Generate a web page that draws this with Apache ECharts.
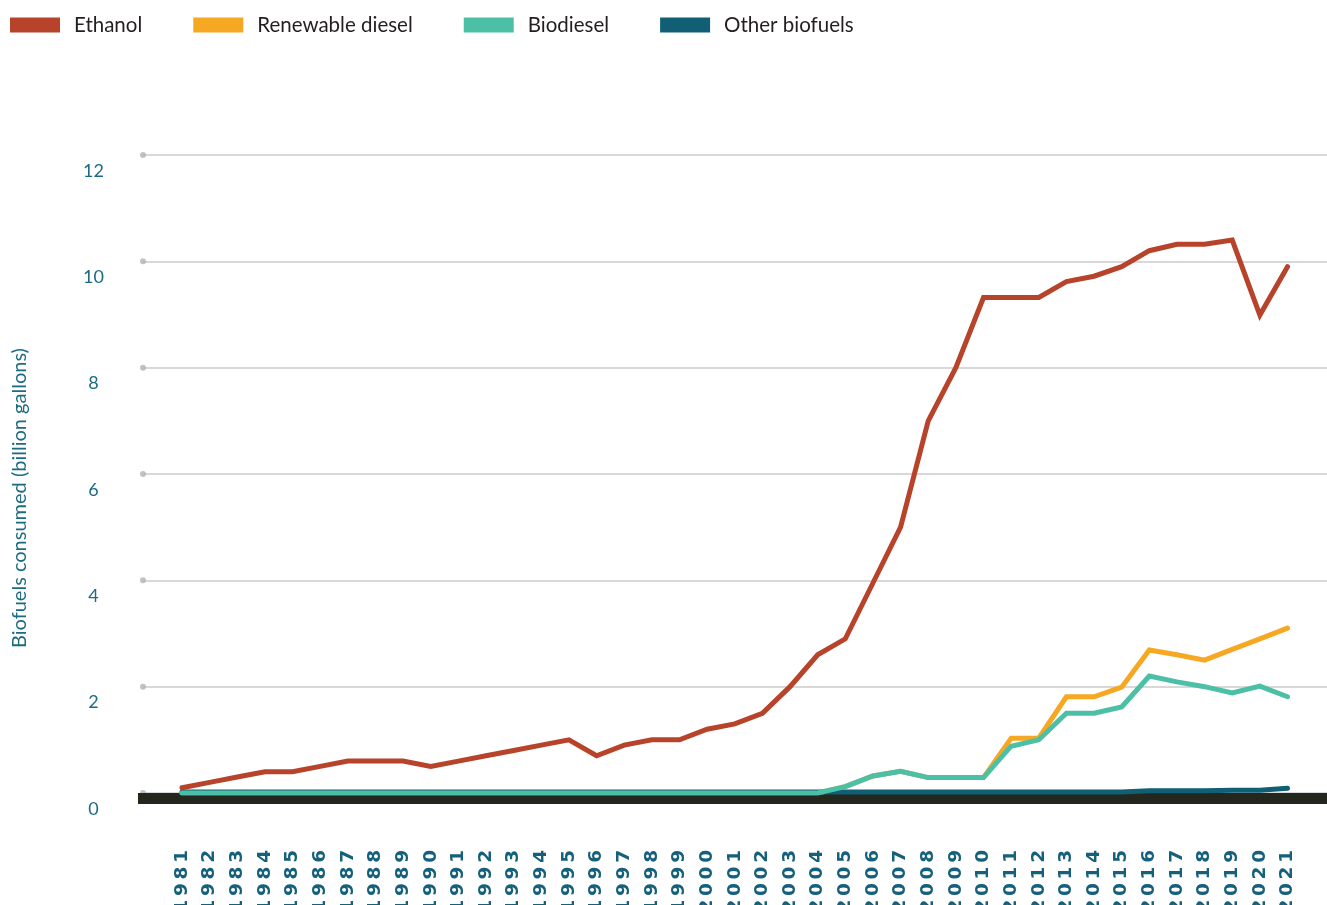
<!DOCTYPE html>
<html>
<head>
<meta charset="utf-8">
<title>Biofuels consumed</title>
<script src="https://cdn.jsdelivr.net/npm/echarts@6/dist/echarts.min.js"></script>
<style>
  html, body { margin: 0; padding: 0; background: #ffffff; }
  #chart { width: 1327px; height: 905px; }
</style>
</head>
<body>
<div id="chart"></div>
<script>
// Years on the horizontal axis
const years = [
  '1981','1982','1983','1984','1985','1986','1987','1988','1989','1990',
  '1991','1992','1993','1994','1995','1996','1997','1998','1999','2000',
  '2001','2002','2003','2004','2005','2006','2007','2008','2009','2010',
  '2011','2012','2013','2014','2015','2016','2017','2018','2019','2020','2021'
];

// Consumption, billion gallons
const ethanol = [
  0.1, 0.2, 0.3, 0.4, 0.4, 0.5, 0.6, 0.6, 0.6, 0.5,
  0.6, 0.7, 0.8, 0.9, 1.0, 0.7, 0.9, 1.0, 1.0, 1.2,
  1.3, 1.5, 2.0, 2.6, 2.9, 3.95, 5.0, 7.0, 8.0, 9.32,
  9.32, 9.32, 9.62, 9.72, 9.9, 10.2, 10.32, 10.32, 10.4, 8.99, 9.9
];
const renewableDiesel = [
  0, 0, 0, 0, 0, 0, 0, 0, 0, 0,
  0, 0, 0, 0, 0, 0, 0, 0, 0, 0,
  0, 0, 0, 0, 0.12, 0.32, 0.41, 0.29, 0.29, 0.29,
  1.03, 1.03, 1.81, 1.81, 1.99, 2.69, 2.6, 2.5, 2.7, 2.9, 3.1
];
const biodiesel = [
  0, 0, 0, 0, 0, 0, 0, 0, 0, 0,
  0, 0, 0, 0, 0, 0, 0, 0, 0, 0,
  0, 0, 0, 0, 0.12, 0.32, 0.41, 0.29, 0.29, 0.29,
  0.88, 1.0, 1.5, 1.5, 1.62, 2.2, 2.09, 2.0, 1.88, 2.01, 1.81
];
const otherBiofuels = [
  0.02, 0.02, 0.02, 0.02, 0.02, 0.02, 0.02, 0.02, 0.02, 0.02,
  0.02, 0.02, 0.02, 0.02, 0.02, 0.02, 0.02, 0.02, 0.02, 0.02,
  0.02, 0.02, 0.02, 0.02, 0.02, 0.02, 0.02, 0.02, 0.02, 0.02,
  0.02, 0.02, 0.02, 0.02, 0.02, 0.04, 0.04, 0.04, 0.05, 0.05, 0.09
];

// Value axis ticks
const yTicks = [0, 2, 4, 6, 8, 10, 12];

const seriesNames = ['Ethanol', 'Renewable diesel', 'Biodiesel', 'Other biofuels'];
const colors = {
  'Ethanol': '#b7432a',
  'Renewable diesel': '#f6a823',
  'Biodiesel': '#4cc0a6',
  'Other biofuels': '#105f74'
};

const TEAL_TEXT = '#1d6b81';
const TOP = 155, BOTTOM = 112;

function lineSeries(name, data, z) {
  return {
    name: name,
    type: 'line',
    xAxisIndex: 2,
    yAxisIndex: 2,
    data: data,
    symbol: 'none',
    z: z,
    lineStyle: { color: colors[name], width: 5, cap: 'round', join: 'miter' },
    itemStyle: { color: colors[name] },
    emphasis: { disabled: true }
  };
}

const chart = echarts.init(document.getElementById('chart'), null, { renderer: 'canvas' });

chart.setOption({
  animation: false,
  backgroundColor: '#ffffff',
  legend: {
    data: seriesNames,
    left: 10,
    top: 10,
    padding: 0,
    icon: 'rect',
    itemWidth: 50,
    itemHeight: 15,
    itemGap: 51,
    textStyle: {
      color: '#231f20',
      fontFamily: 'Lato',
      fontSize: 20.5,
      lineHeight: 30,
      padding: [0, 0, 0, 9]
    }
  },
  grid: [
    // gridlines and value labels
    { left: 143, right: 0, top: TOP, bottom: BOTTOM, outerBoundsMode: 'none' },
    // heavy baseline
    { left: 138, right: 0, top: TOP, bottom: BOTTOM, outerBoundsMode: 'none' },
    // plotted lines
    { left: 182, right: 39.5, top: TOP, bottom: BOTTOM, outerBoundsMode: 'none' }
  ],
  xAxis: [
    { gridIndex: 0, type: 'value', min: 0, max: 1, show: false },
    {
      gridIndex: 1, type: 'value', min: 0, max: 1,
      offset: 5.5,
      z: 3,
      axisLine: { show: true, onZero: false, lineStyle: { color: '#23271d', width: 11, cap: 'butt' } },
      axisTick: { show: false },
      axisLabel: { show: false },
      splitLine: { show: false }
    },
    {
      gridIndex: 2,
      type: 'category',
      data: years,
      boundaryGap: false,
      axisLine: { show: false },
      axisTick: { show: false },
      splitLine: { show: false },
      axisLabel: {
        interval: 0,
        rotate: 90,
        margin: 57,
        color: '#15607a',
        fontFamily: 'DejaVu Sans',
        fontWeight: 'bold',
        fontSize: 18.5,
        formatter: function (v) { return v.split('').join('\u2009'); }
      }
    }
  ],
  yAxis: [
    {
      gridIndex: 0,
      type: 'value',
      min: 0, max: 12, interval: 2,
      axisLine: { show: false },
      axisTick: { show: false },
      axisLabel: {
        color: TEAL_TEXT,
        fontFamily: 'Lato',
        fontSize: 18,
        align: 'center',
        verticalAlign: 'top',
        lineHeight: 32,
        margin: 49.5
      },
      splitLine: { show: true, lineStyle: { color: '#cbcbcb', width: 1.5 } }
    },
    { gridIndex: 1, type: 'value', min: 0, max: 12, show: false },
    { gridIndex: 2, type: 'value', min: 0, max: 12, show: false }
  ],
  graphic: [
    {
      type: 'text',
      x: 20,
      y: 498,
      rotation: Math.PI / 2,
      style: {
        text: 'Biofuels consumed (billion gallons)',
        fill: TEAL_TEXT,
        font: '20px Lato',
        align: 'center',
        verticalAlign: 'middle'
      }
    }
  ],
  series: [
    {
      name: 'gridline-dots',
      type: 'scatter',
      xAxisIndex: 0,
      yAxisIndex: 0,
      data: yTicks.map(function (t) { return [0, t]; }),
      symbolSize: 6,
      clip: false,
      silent: true,
      itemStyle: { color: '#b3b3b3' },
      z: 1
    },
    lineSeries('Renewable diesel', renewableDiesel, 4),
    lineSeries('Other biofuels', otherBiofuels, 5),
    lineSeries('Biodiesel', biodiesel, 6),
    lineSeries('Ethanol', ethanol, 7)
  ]
});
</script>
</body>
</html>
